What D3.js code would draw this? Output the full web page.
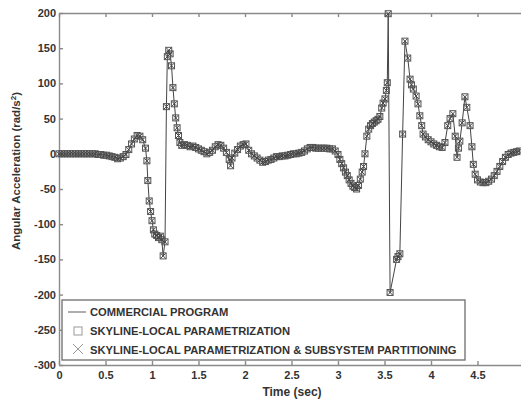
<!DOCTYPE html>
<html>
<head>
<meta charset="utf-8">
<script src="https://cdn.jsdelivr.net/npm/d3@7"></script>
<style>
    body { margin: 0; background: #fff; }
    svg { display: block; font-family: "Liberation Sans", Arial, sans-serif; }
    .axis path, .axis line { stroke: #8a8a8a; stroke-width: 1.4; }
    .axis text { fill: #333; font-size: 11px; font-weight: bold; }
</style>
</head>
<body>
<script>
//time samples (sec)
var timeSec = [
    0, 0.03, 0.06, 0.09, 0.12, 0.15, 0.18, 0.21, 0.24, 0.27,
    0.30, 0.33, 0.36, 0.39, 0.42, 0.45, 0.48, 0.51, 0.54, 0.57,
    0.60, 0.63, 0.66, 0.69, 0.72, 0.75, 0.78, 0.81, 0.84, 0.87,
    0.90, 0.93, 0.945, 0.955, 0.97, 0.985, 1.0, 1.015, 1.03, 1.05,
    1.07, 1.09, 1.105, 1.12, 1.14, 1.155, 1.165, 1.18, 1.195, 1.21,
    1.225, 1.24, 1.255, 1.27, 1.285, 1.30, 1.32, 1.35, 1.38, 1.41,
    1.44, 1.47, 1.50, 1.53, 1.56, 1.59, 1.62, 1.65, 1.68, 1.71,
    1.74, 1.77, 1.80, 1.83, 1.845, 1.86, 1.89, 1.92, 1.95, 1.98,
    2.01, 2.04, 2.07, 2.10, 2.13, 2.16, 2.19, 2.22, 2.25, 2.28,
    2.31, 2.34, 2.37, 2.40, 2.43, 2.46, 2.49, 2.52, 2.55, 2.58,
    2.61, 2.64, 2.67, 2.70, 2.73, 2.76, 2.79, 2.82, 2.85, 2.88,
    2.91, 2.94, 2.97, 3.00, 3.02, 3.04, 3.06, 3.08, 3.10, 3.12,
    3.14, 3.16, 3.18, 3.20, 3.22, 3.24, 3.26, 3.275, 3.29, 3.31,
    3.33, 3.35, 3.37, 3.39, 3.41, 3.43, 3.45, 3.47, 3.485, 3.505,
    3.52, 3.53, 3.54, 3.56, 3.63, 3.645, 3.665, 3.695, 3.72, 3.75,
    3.775, 3.79, 3.81, 3.84, 3.86, 3.88, 3.90, 3.915, 3.94, 3.97,
    4.00, 4.03, 4.06, 4.09, 4.12, 4.15, 4.18, 4.205, 4.235, 4.26,
    4.28, 4.295, 4.31, 4.335, 4.365, 4.385, 4.42, 4.44, 4.455, 4.475,
    4.50, 4.53, 4.56, 4.59, 4.62, 4.65, 4.68, 4.71, 4.74, 4.77,
    4.80, 4.83, 4.86, 4.89, 4.92, 4.95
];

//angular acceleration (rad/s^2), commercial program
var commercialAccel = [
    0, 0, 0, 0, 0, 0, 0, 0, 0, 0,
    0, 0, 0, 0, -1, -1, -2, -2, -3, -4,
    -5, -7, -6, -4, -1, 6, 14, 21, 26, 25,
    20, 8, -10, -38, -67, -82, -95, -108, -114, -116,
    -119, -117, -122, -145, -125, 67, 138, 147, 142, 125,
    94, 71, 51, 37, 26, 16, 12, 13, 12, 10,
    11, 9, 7, 5, 3, 0, 2, 5, 10, 13,
    12, 8, 2, -8, -17, -6, 1, 6, 11, 13,
    14, 5, 0, -3, -6, -9, -12, -11, -9, -8,
    -6, -4, -4, -3, -3, -2, -1, 0, 0, 1,
    2, 4, 7, 9, 9, 8, 8, 8, 8, 8,
    7, 7, 4, -1, -8, -14, -20, -26, -31, -37,
    -42, -46, -48, -50, -45, -36, -26, -18, 0, 25,
    35, 40, 43, 45, 47, 49, 53, 65, 72, 78,
    90, 101, 199, -197, -150, -146, -142, 28, 160, 136,
    106, 98, 92, 82, 71, 54, 40, 28, 24, 20,
    17, 14, 12, 10, 9, 16, 40, 50, 57, 25,
    -5, 8, 18, 44, 81, 66, 40, 10, -15, -29,
    -37, -40, -41, -41, -39, -36, -31, -25, -18, -11,
    -5, -1, 1, 2, 3, 4
];

//the two skyline runs sit on top of the commercial result
var skylineAccel = commercialAccel;
var partitionAccel = commercialAccel;

var xTicks = [0, 0.5, 1, 1.5, 2, 2.5, 3, 3.5, 4, 4.5];
var xTickLabels = ["0", "0.5", "1", "1.5", "2", "2.5", "3", "3.5", "4", "4.5"];
var yTicks = [-300, -250, -200, -150, -100, -50, 0, 50, 100, 150, 200];
var yTickLabels = ["-300", "-250", "-200", "-150", "-100", "-50", "0", "50", "100", "150", "200"];

var legendLabels = [
    "COMMERCIAL PROGRAM",
    "SKYLINE-LOCAL PARAMETRIZATION",
    "SKYLINE-LOCAL PARAMETRIZATION & SUBSYSTEM PARTITIONING"
];

window.onload = drawChart();

function drawChart(){
    var width = 521,
        height = 401;

    var svg = d3.select("body")
        .append("svg")
        .attr("width", width)
        .attr("height", height);

    //plot frame (right edge of the original is cut off by the crop)
    var left = 59, right = 524, top = 13, bottom = 365;

    var x = d3.scaleLinear().domain([0, 5]).range([left, right]);
    var y = d3.scaleLinear().domain([-300, 200]).range([bottom, top]);

    //axes with inward ticks
    svg.append("g")
        .attr("class", "axis")
        .attr("transform", "translate(0," + bottom + ")")
        .call(d3.axisBottom(x).tickValues(xTicks)
            .tickFormat(function(d, i){ return xTickLabels[i]; })
            .tickSizeInner(-4).tickSizeOuter(0).tickPadding(6));

    svg.append("g")
        .attr("class", "axis")
        .attr("transform", "translate(0," + top + ")")
        .call(d3.axisTop(x).tickValues(xTicks).tickFormat("")
            .tickSizeInner(-4).tickSizeOuter(0));

    svg.append("g")
        .attr("class", "axis")
        .attr("transform", "translate(" + left + ",0)")
        .call(d3.axisLeft(y).tickValues(yTicks)
            .tickFormat(function(d, i){ return yTickLabels[i]; })
            .tickSizeInner(-4).tickSizeOuter(0).tickPadding(3));

    //axis titles
    svg.append("text")
        .attr("x", 292)
        .attr("y", 396)
        .attr("text-anchor", "middle")
        .style("font-size", "12px")
        .style("font-weight", "bold")
        .style("fill", "#333")
        .text("Time (sec)");

    var yTitle = svg.append("text")
        .attr("transform", "translate(20,171) rotate(-90)")
        .attr("text-anchor", "middle")
        .style("font-size", "11.5px")
        .style("font-weight", "bold")
        .style("fill", "#333");
    yTitle.append("tspan").text("Angular Acceleration (rad/s");
    yTitle.append("tspan").attr("dy", -4).style("font-size", "8px").text("2");
    yTitle.append("tspan").attr("dy", 4).text(")");

    //commercial program line
    var line = d3.line()
        .x(function(d, i){ return x(timeSec[i]); })
        .y(function(d){ return y(d); });

    svg.append("path")
        .datum(commercialAccel)
        .attr("fill", "none")
        .attr("stroke", "#444")
        .attr("stroke-width", 1)
        .attr("d", line);

    //skyline-local markers (squares)
    svg.selectAll(".sq")
        .data(skylineAccel)
        .enter()
        .append("rect")
        .attr("class", "sq")
        .attr("x", function(d, i){ return x(timeSec[i]) - 3; })
        .attr("y", function(d){ return y(d) - 3; })
        .attr("width", 6)
        .attr("height", 6)
        .attr("fill", "none")
        .attr("stroke", "#555")
        .attr("stroke-width", 1);

    //subsystem partitioning markers (crosses)
    svg.selectAll(".xm")
        .data(partitionAccel)
        .enter()
        .append("path")
        .attr("class", "xm")
        .attr("d", "M-2.5,-2.5L2.5,2.5M-2.5,2.5L2.5,-2.5")
        .attr("transform", function(d, i){
            return "translate(" + x(timeSec[i]) + "," + y(d) + ")";
        })
        .attr("fill", "none")
        .attr("stroke", "#444")
        .attr("stroke-width", 1);

    //legend
    var legend = svg.append("g").attr("transform", "translate(62,300)");
    legend.append("rect")
        .attr("width", 403)
        .attr("height", 60)
        .attr("fill", "#fff")
        .attr("stroke", "#777")
        .attr("stroke-width", 1.4);

    legend.append("line")
        .attr("x1", 6).attr("x2", 24)
        .attr("y1", 12).attr("y2", 12)
        .attr("stroke", "#777").attr("stroke-width", 1.2);
    legend.append("rect")
        .attr("x", 12).attr("y", 27)
        .attr("width", 8).attr("height", 8)
        .attr("fill", "none").attr("stroke", "#999").attr("stroke-width", 1);
    legend.append("path")
        .attr("d", "M11,44L21,54M11,54L21,44")
        .attr("stroke", "#999").attr("stroke-width", 1);

    legend.selectAll(".lab")
        .data(legendLabels)
        .enter()
        .append("text")
        .attr("class", "lab")
        .attr("x", 28)
        .attr("y", function(d, i){ return 12 + i * 19; })
        .attr("dy", "0.36em")
        .style("font-size", "11.2px")
        .style("font-weight", "bold")
        .style("fill", "#333")
        .text(function(d){ return d; });
}
</script>
</body>
</html>
